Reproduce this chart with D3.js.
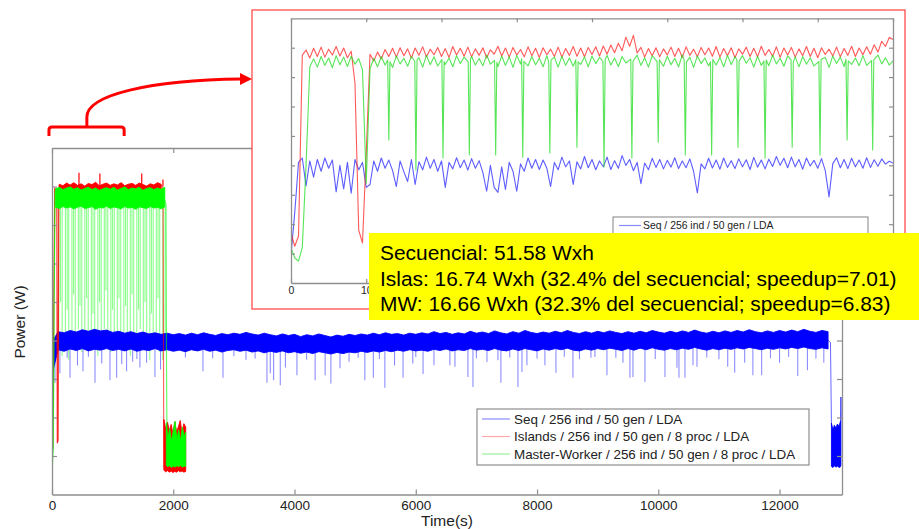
<!DOCTYPE html>
<html><head><meta charset="utf-8">
<script src="https://cdn.jsdelivr.net/npm/d3@7"></script>
<style>body{margin:0;background:#fff}svg{display:block}text{font-family:Arial,"Liberation Sans",sans-serif}</style>
</head><body><svg id="c" width="919" height="529"></svg>
<script>
// ---------------- DATA ----------------
const xTicksMain=[0,2000,4000,6000,8000,10000,12000];
const yTicks=[110,120,130,140,150,160,170,180];
const xTicksInset=[0,10,20,30,40,50,60,70,80];
const insetLabelTicks=[0,10];
const legendLabels=["Seq / 256 ind / 50 gen / LDA","Islands / 256 ind / 50 gen / 8 proc / LDA","Master-Worker / 256 ind / 50 gen / 8 proc / LDA"];
const infoLines=["Secuencial: 51.58 Wxh","Islas: 16.74 Wxh (32.4% del secuencial; speedup=7.01)","MW: 16.66 Wxh (32.3% del secuencial; speedup=6.83)"];

// Main: Seq band envelope, one sample every 100 s (0..12800)
const seqBandTime=d3.range(0,12801,100);
const seqUpper=[139.5,142.3,142.0,142.6,142.2,142.8,142.4,142.9,142.5,142.7,142.1,
142.4,141.9,142.3,141.8,142.2,141.7,142.0,141.6,141.9,141.5,
141.8,141.4,141.9,141.5,142.0,141.6,141.3,141.8,141.5,141.9,
141.6,142.1,141.7,141.4,141.9,141.5,141.2,141.7,141.3,141.6,
141.0,141.5,141.2,141.7,141.3,140.9,141.4,141.1,141.6,141.3,
141.7,141.4,141.9,141.5,142.0,141.6,141.8,141.4,141.9,141.6,
142.0,141.7,142.3,141.8,142.1,141.6,142.0,141.7,142.4,141.9,
142.2,141.8,142.5,142.0,141.7,142.3,141.9,142.6,142.1,141.8,
142.2,141.9,142.4,142.0,142.6,142.1,141.8,142.3,141.9,142.4,
142.0,142.5,142.1,141.8,142.3,141.9,142.4,142.0,142.6,142.2,
141.9,142.4,142.0,142.5,142.1,142.7,142.2,141.9,142.4,142.0,
142.5,142.1,142.6,142.2,142.8,142.3,142.0,142.5,142.1,142.6,
142.2,142.7,142.3,142.9,142.4,142.1,142.6,142.3];
const seqLower=[131.0,137.6,137.2,137.8,137.4,137.9,137.3,137.7,137.5,137.9,137.4,
137.7,137.3,137.8,137.2,137.6,137.4,137.9,137.3,137.6,137.2,
137.5,137.1,137.6,137.3,137.7,137.2,137.5,137.0,137.4,137.6,
137.2,137.5,137.0,137.3,136.8,137.2,136.9,137.3,136.8,137.1,
136.7,137.0,136.6,137.1,136.8,136.5,136.9,136.6,137.0,136.8,
137.2,136.9,137.3,137.0,137.4,137.1,137.5,137.2,137.6,137.3,
137.5,137.2,137.7,137.4,137.8,137.3,137.6,137.4,137.9,137.5,
137.7,137.4,137.9,137.5,137.3,137.8,137.4,137.9,137.6,137.3,
137.8,137.5,137.9,137.6,138.0,137.5,137.3,137.8,137.5,137.9,
137.6,138.0,137.7,137.4,137.9,137.5,138.0,137.6,138.1,137.7,
137.5,137.9,137.6,138.0,137.7,138.2,137.8,137.5,137.9,137.6,
138.0,137.7,138.1,137.8,138.2,137.9,137.6,138.0,137.7,138.1,
137.8,138.2,137.9,138.3,137.9,137.7,138.1,137.8];
const seqDrop=[[12800,140.0],[12840,139.5],[12856,118.0]];
const seqTailTime=[12856,12880,12905,12930,12955,12980,13005];
const seqTailUpper=[118.5,116.8,118.0,117.2,118.3,117.6,119.0];
const seqTailLower=[107.3,107.0,107.5,107.1,107.4,107.0,107.2];
const seqTailSpike=[[13010,107.5],[13012,125.3]];
const seqDips=[[49,129.0],[130,131.5],[250,135.5],[297,130.3],[420,133.5],[511,132.0],[600,135.8],[709,129.0],[820,134.0],[956,129.7],[1066,130.3],[1150,133.8],[1230,132.0],[1330,134.5],[1400,135.2],[1450,133.0],[1560,134.2],[1698,130.5],[1790,132.5],[2200,135.6],[2490,132.0],[2650,135.4],[2820,130.3],[3000,135.9],[3200,135.0],[3350,135.3],[3545,129.0],[3600,131.5],[3655,129.7],[3765,128.4],[3850,133.0],[4040,131.0],[4200,135.0],[4340,129.7],[4505,131.0],[4600,128.8],[4750,132.8],[4900,134.5],[5050,135.5],[5160,129.7],[5300,130.3],[5400,135.2],[5490,127.7],[5650,133.5],[5790,130.3],[5950,134.0],[6000,135.7],[6120,131.3],[6300,133.6],[6563,133.6],[6646,133.2],[6860,130.5],[6943,127.9],[7000,135.4],[7174,134.4],[7355,134.9],[7404,129.0],[7550,135.6],[7685,127.9],[7751,131.8],[7833,133.6],[8000,135.3],[8130,133.6],[8312,131.6],[8450,135.8],[8592,130.3],[8700,135.1],[8889,135.5],[8955,135.7],[9153,131.0],[9300,135.5],[9417,134.2],[9532,130.3],[9582,130.5],[9780,129.2],[9950,135.2],[10110,130.5],[10308,132.9],[10341,130.3],[10440,130.3],[10572,133.6],[10638,133.2],[10800,135.6],[11000,135.1],[11145,133.2],[11260,131.6],[11425,134.2],[11560,131.0],[11705,131.0],[11850,135.4],[12000,134.2],[12150,135.7],[12300,130.8],[12460,132.3],[12600,135.3],[12730,134.2]];

// Main: Islands
const islStart=[[0,117],[15,112],[30,150],[45,179.5],[80,179],[88,113.4],[100,114],[112,178],[120,180.4]];
const islHiTime=d3.range(120,1801,60);
const islHiUpper=[180.6,180.2,180.9,180.4,181.0,180.3,180.7,180.1,180.8,180.5,181.1,180.2,180.6,180.9,180.3,180.7,180.4,181.0,180.2,180.6,180.8,180.3,180.9,180.5,180.1,180.7,180.4,181.0,180.6];
const islHiLower=[176.4,176.0,176.6,176.2,175.9,176.5,176.1,176.7,176.3,175.8,176.4,176.0,176.6,176.2,176.5,175.9,176.3,176.7,176.1,176.4,176.0,176.6,176.2,175.9,176.5,176.1,176.4,176.0,176.3];
const islSpikes=[[445,183.6],[790,183.4],[1140,180.8],[1480,183.4],[1830,181.8]];
const islDrop=[[1800,180.4],[1832,179.5],[1842,118],[1848,107]];
const islLowTime=[1845,1875,1905,1935,1965,1995,2025,2055,2085,2115,2145,2175,2205];
const islLowUpper=[119.5,117.0,118.8,116.5,118.2,115.8,118.9,116.3,117.6,119.2,116.0,118.4,117.5];
const islLowLower=[106.3,105.9,106.2,105.8,106.1,105.7,106.0,105.8,106.2,105.9,106.1,105.8,106.0];

// Main: Master-Worker
const mwStart=[[0,105.5],[20,112],[35,150],[50,178],[60,179.4]];
const mwHiTime=d3.range(60,1861,60);
const mwHiUpper=[179.4,179.8,179.2,179.6,179.9,179.3,179.7,179.1,179.5,179.8,179.2,179.6,179.0,179.4,179.7,179.3,179.8,179.1,179.5,179.9,179.2,179.6,179.4,179.8,179.0,179.5,179.7,179.2,179.6,179.3,179.8,179.4];
const mwHiLower=[174.6,174.3,174.8,174.4,174.7,174.2,174.6,174.9,174.3,174.5,174.8,174.1,174.6,174.4,174.9,174.3,174.7,174.5,174.2,174.8,174.4,174.6,174.1,174.7,174.5,174.3,174.8,174.4,174.6,174.2,174.7,174.5];
const mwDrop=[[1860,176.5],[1880,175.5],[1890,130],[1896,116]];
const mwLowTime=[1885,1910,1940,1970,2000,2030,2060,2090,2120,2150,2180,2205];
const mwLowUpper=[118.5,114.5,117.2,113.8,116.5,119.0,114.2,116.8,113.9,117.5,115.0,116.2];
const mwLowLower=[107.6,107.2,107.5,107.0,107.4,107.1,107.5,107.2,107.6,107.1,107.4,107.3];
const mwDips=[[112,138],[140,150],[168,136],[221,140],[250,148],[276,135],[329,141],[356,152],[384,139],[435,143],[462,149],[491,137],[541,140],[570,151],[598,142],[649,138],[676,147],[705,141],[756,136],[784,150],[812,140],[863,143],[890,153],[920,139],[971,137],[998,148],[1027,141],[1077,139],[1105,151],[1134,142],[1185,138],[1213,149],[1242,140],[1292,136],[1320,152],[1348,141],[1399,139],[1427,148],[1455,143],[1506,138],[1534,150],[1562,140],[1613,135],[1641,147],[1669,139],[1720,142],[1748,151],[1776,137],[1827,135],[1866,140]];

// Inset (zoom of first part), one sample every 0.5 units
const insetTime=d3.range(0,80.001,0.5);
const seqIn=[109.5,124,141,142.5,133,141.5,136,142,138,142.5,
139,141.8,131,140,132,141,130.5,142,138.5,141,
132.5,133.5,141.5,138,142.5,139,141.8,138.2,132.8,141.5,
137.8,134.5,142,133.5,141.2,138.5,142.8,139,142,138,
141.5,132.5,141,138.8,142.6,139.2,141.8,138.4,142.3,139,
141.6,137.5,131.2,140,132.5,130.8,139.5,131.8,141,138,
131.2,140.5,138,142.5,139,142,138.6,141.8,139,132.8,
141,138.5,142.8,139.5,141.5,133.5,141.2,138.8,143,139.2,
142,138.5,141.5,139.5,142.8,138.6,141.6,139,143.3,140,
142,138.2,141,133.8,140.8,138.5,142.4,139.3,142,138.8,
141.7,139.4,142.6,138.9,141.5,139.2,142.2,138,130.6,140.5,
138.8,142.4,139.1,141.8,138.7,142.5,139.3,141.6,138.9,142.2,
139.5,141.9,138.6,142.7,139.4,141.8,138.8,142.1,139.6,143,
140,142.4,139.2,142.8,139.5,142,138.7,142.5,139.8,141.7,
139,142.3,138.2,129.3,140.6,142.6,139.2,142,138.9,142.4,
139.5,141.8,139,142.6,139.3,141.9,139.7,142.2,140.4,141.4,
140.8];
const islIn=[117,112.5,116,177.5,179.2,176.5,179.8,177,180.2,176.8,
179.5,177.5,180.4,177.2,179.9,176.6,178.8,168,118,113.6,
144,177.8,175.5,178.5,176.2,179.4,177,179.8,176.8,180,
177.3,179.6,176.5,179.9,177.4,180.3,176.9,179.5,177.6,180.1,
177,179.7,176.7,180.4,177.5,179.8,177.1,180.2,176.9,179.6,
177.4,180,176.6,179.3,177.8,180.5,177.2,179.9,176.8,180.1,
177.5,179.4,176.9,180.3,177.3,179.8,176.7,180,177.6,179.5,
177,180.2,176.8,179.7,177.4,180.4,177.1,179.9,176.9,180.1,
177.7,180.3,177.2,180.6,177.8,180.9,178.3,181.5,179,183.6,
180.5,184.2,178.2,180.1,176.8,179.7,177.3,180,176.9,179.6,
177.5,180.2,177,179.8,176.7,180.3,177.4,179.5,176.9,180.1,
177.6,179.9,177.1,180.4,176.8,179.7,177.3,180,176.6,179.6,
177.8,180.2,177,179.8,176.9,180.5,177.4,179.4,177.1,180.3,
176.7,179.9,177.5,180.1,176.8,179.6,177.3,180.4,177,179.8,
176.6,180,177.7,179.5,177.2,180.2,176.9,179.7,177.4,180.5,
177,179.9,177.6,180.3,177.8,181,178.5,182.2,180.4,183.5,
182.8];
const mwIn=[112,108.5,107.5,112,140,173.5,176.2,173.4,177,174,
176.5,173.2,177.3,174.2,176.8,173.6,177.1,174.4,176.3,172.5,
134,172.8,176.4,173.5,177,174.1,176.7,173.3,177.2,174.5,
176.4,173.7,177,174,176.6,173.4,177.4,174.2,176.9,173.8,
177.1,174.3,176.5,173.5,177.3,174.6,176.8,173.2,177,174.1,
176.3,173.9,177.5,174.4,176.7,173.6,177.2,174,176.9,173.3,
177.4,174.5,176.6,173.8,177,174.2,176.4,173.5,177.3,174.7,
176.8,173.4,177.1,174,176.5,173.7,177.6,174.3,176.9,173.5,
177.2,174.6,176.7,173.9,177.4,174.1,176.5,173.6,177,174.8,
176.8,174.2,177.5,174,176.6,173.4,177.3,174.5,176.9,173.7,
177.1,174.2,176.4,173.5,177.6,174.4,176.8,173.3,177.2,174.6,
176.5,173.8,177,174.1,176.7,173.5,177.4,174.3,176.9,173.6,
177.3,174.7,176.6,173.4,177.1,174,176.8,173.9,177.5,174.5,
176.4,173.7,177.2,174.2,176.9,173.5,177,174.4,176.6,173.8,
177.4,174.1,176.7,173.3,177.2,174.6,176.8,173.6,177.1,174.3,
176.5,173.9,177.3,174,176.9,173.7,177.5,174.5,176.6,174.1,
175.5];
// narrow MW dips in the inset: shoulder, bottom, shoulder
const mwInDips=[
[[12.85,175.8],[13.0,148.6],[13.15,175.2]],
[[16.45,175.4],[16.6,138.4],[16.75,175.9]],
[[20.05,176.0],[20.2,142.5],[20.35,175.3]],
[[23.55,175.2],[23.7,143.5],[23.85,176.1]],
[[27.05,175.7],[27.2,143.5],[27.35,175.0]],
[[30.65,176.2],[30.8,142.8],[30.95,175.4]],
[[34.25,175.1],[34.4,144.2],[34.55,175.8]],
[[37.85,175.9],[38.0,146.2],[38.15,175.2]],
[[41.45,175.4],[41.6,139.5],[41.75,176.0]],
[[45.15,176.1],[45.3,142.5],[45.45,175.5]],
[[48.65,175.3],[48.8,147.9],[48.95,175.9]],
[[52.25,175.8],[52.4,143.5],[52.55,175.1]],
[[55.75,175.2],[55.9,143.5],[56.05,176.0]],
[[59.25,176.0],[59.4,146.2],[59.55,175.4]],
[[62.85,175.5],[63.0,142.5],[63.15,175.8]],
[[66.45,175.9],[66.6,146.2],[66.75,175.2]],
[[70.15,175.3],[70.3,143.5],[70.45,176.1]],
[[73.75,176.1],[73.9,148.6],[74.05,175.5]],
[[77.15,175.6],[77.3,145.2],[77.45,175.9]]];

// ---------------- DRAW ----------------
const svg=d3.select("#c");
const AX="#8e8e8e";
const BLUE="#0000ff",RED="#ff0000",GREEN="#00ff00";
const M={l:52,r:842,t:148,b:494.5};
const x=d3.scaleLinear().domain([0,13030]).range([M.l,M.r]);
const y=d3.scaleLinear().domain([100,190]).range([M.b,M.t]);

const defs=svg.append("defs");
defs.append("clipPath").attr("id","mclip").append("rect").attr("x",M.l).attr("y",M.t).attr("width",M.r-M.l).attr("height",M.b-M.t);

function styleAxis(g,fs){
  g.select("path.domain").attr("stroke",AX).attr("stroke-width",1.3);
  g.selectAll(".tick line").attr("stroke",AX).attr("stroke-width",1.2);
  g.selectAll(".tick text").attr("fill","#222").style("font-size",fs+"px").style("font-family","Arial, 'Liberation Sans', sans-serif");
}
function band(g,sx,sy,T,U,L,color,op){
  const pts=T.map((t,i)=>[t,U[i],L[i]]);
  g.append("path").datum(pts)
   .attr("d",d3.area().x(d=>sx(d[0])).y0(d=>sy(d[2])).y1(d=>sy(d[1])))
   .attr("fill",color).attr("fill-opacity",op).attr("stroke",color).attr("stroke-width",0.9).attr("stroke-opacity",op);
}
function poly(g,sx,sy,pts,color,w,op){
  g.append("path").datum(pts).attr("d",d3.line().x(d=>sx(d[0])).y(d=>sy(d[1])))
   .attr("fill","none").attr("stroke",color).attr("stroke-width",w).attr("stroke-opacity",op).attr("stroke-linejoin","round");
}
function spikes(g,sx,sy,arr,base,color,w,op){
  g.append("g").selectAll("line").data(arr).join("line")
   .attr("x1",d=>sx(d[0])).attr("x2",d=>sx(d[0])).attr("y1",sy(base)).attr("y2",d=>sy(d[1]))
   .attr("stroke",color).attr("stroke-width",w).attr("stroke-opacity",op);
}

// main plot data
const gm=svg.append("g").attr("clip-path","url(#mclip)");
spikes(gm,x,y,mwDips,175,GREEN,1.1,0.45);
poly(gm,x,y,[[0,131],[50,139.5]],BLUE,1,0.8);
spikes(gm,x,y,seqDips,138.5,BLUE,1.1,0.45);
band(gm,x,y,seqBandTime,seqUpper,seqLower,BLUE,1);
poly(gm,x,y,seqDrop,BLUE,1,0.6);
band(gm,x,y,seqTailTime,seqTailUpper,seqTailLower,BLUE,1);
poly(gm,x,y,seqTailSpike,BLUE,1.2,0.9);
// Islands
poly(gm,x,y,islStart,RED,1.2,0.85);
band(gm,x,y,islHiTime,islHiUpper,islHiLower,RED,1);
spikes(gm,x,y,islSpikes,180,RED,1.2,1);
poly(gm,x,y,islDrop,RED,1.2,0.6);
band(gm,x,y,islLowTime,islLowUpper,islLowLower,RED,1);
// MW
poly(gm,x,y,mwStart,GREEN,1.2,0.8);
band(gm,x,y,mwHiTime,mwHiUpper,mwHiLower,GREEN,1);
poly(gm,x,y,mwDrop,GREEN,1.2,0.6);
band(gm,x,y,mwLowTime,mwLowUpper,mwLowLower,GREEN,1);

// main axes
const gx=svg.append("g").attr("transform",`translate(0,${M.b})`)
  .call(d3.axisBottom(x).tickValues(xTicksMain).tickSize(-5).tickSizeOuter(0).tickPadding(6).tickFormat(d3.format("d")));
styleAxis(gx,13.5);
const gxt=svg.append("g").attr("transform",`translate(0,${M.t})`)
  .call(d3.axisTop(x).tickValues(xTicksMain).tickSize(-5).tickSizeOuter(0).tickFormat(""));
styleAxis(gxt,13);
const gy=svg.append("g").attr("transform",`translate(${M.l},0)`)
  .call(d3.axisLeft(y).tickValues(yTicks).tickSize(-5).tickSizeOuter(0).tickFormat(""));
styleAxis(gy,13);
const gyr=svg.append("g").attr("transform",`translate(${M.r},0)`)
  .call(d3.axisRight(y).tickValues(yTicks).tickSize(-5).tickSizeOuter(0).tickFormat(""));
styleAxis(gyr,13);

svg.append("text").attr("x",447).attr("y",520).attr("text-anchor","middle").attr("dominant-baseline","central")
  .style("font-size","15.5px").attr("fill","#222").text("Time(s)");
svg.append("text").attr("transform","translate(19,322) rotate(-90)").attr("text-anchor","middle").attr("dominant-baseline","central")
  .style("font-size","15.5px").attr("fill","#222").text("Power (W)");

// main legend
const lg=svg.append("g");
lg.append("rect").attr("x",477).attr("y",409).attr("width",332).attr("height",56).attr("fill","#fff").attr("stroke",AX).attr("stroke-width",1.2);
const legCols=["#8a8aff","#ffa8a8","#98f098"];
legendLabels.forEach((s,i)=>{
  const yy=419+i*17.5;
  lg.append("line").attr("x1",482).attr("x2",510).attr("y1",yy).attr("y2",yy).attr("stroke",legCols[i]).attr("stroke-width",1.2);
  lg.append("text").attr("x",514).attr("y",yy).attr("dominant-baseline","central").style("font-size","13.4px").attr("fill","#222").text(s);
});

// ---------- inset ----------
svg.append("rect").attr("x",252).attr("y",10).attr("width",653).attr("height",299).attr("fill","#fff").attr("stroke","#ff3c3c").attr("stroke-width",1.2);
const I={l:291,r:893,t:18.3,b:283};
const xi=d3.scaleLinear().domain([0,80]).range([I.l,I.r]);
const yi=d3.scaleLinear().domain([100,190]).range([I.b,I.t]);
defs.append("clipPath").attr("id","iclip").append("rect").attr("x",I.l).attr("y",I.t).attr("width",I.r-I.l).attr("height",I.b-I.t);
const gi=svg.append("g").attr("clip-path","url(#iclip)");
poly(gi,xi,yi,insetTime.map((t,i)=>[t,seqIn[i]]),"#3434ff",1.1,0.8);
poly(gi,xi,yi,insetTime.map((t,i)=>[t,islIn[i]]),"#ff2020",1.1,0.75);
const mwInPts=insetTime.map((t,i)=>[t,mwIn[i]])
  .filter(p=>!mwInDips.some(d=>Math.abs(d[1][0]-p[0])<0.3))
  .concat(mwInDips.flat()).sort((a,b)=>a[0]-b[0]);
poly(gi,xi,yi,mwInPts,"#1fdc1f",1.1,0.75);

const gix=svg.append("g").attr("transform",`translate(0,${I.b})`)
  .call(d3.axisBottom(xi).tickValues(xTicksInset).tickSize(-4).tickSizeOuter(0).tickPadding(4)
  .tickFormat(d=>insetLabelTicks.includes(d)?d:""));
styleAxis(gix,10.5);
const gixt=svg.append("g").attr("transform",`translate(0,${I.t})`)
  .call(d3.axisTop(xi).tickValues(xTicksInset).tickSize(-4).tickSizeOuter(0).tickFormat(""));
styleAxis(gixt,10);
const giy=svg.append("g").attr("transform",`translate(${I.l},0)`)
  .call(d3.axisLeft(yi).tickValues(yTicks).tickSize(-4).tickSizeOuter(0).tickFormat(""));
styleAxis(giy,10);
const giyr=svg.append("g").attr("transform",`translate(${I.r},0)`)
  .call(d3.axisRight(yi).tickValues(yTicks).tickSize(-4).tickSizeOuter(0).tickFormat(""));
styleAxis(giyr,10);

// inset legend (partly covered)
svg.append("rect").attr("x",613).attr("y",217).attr("width",255).attr("height",40).attr("fill","#fff").attr("stroke",AX).attr("stroke-width",1.1);
svg.append("line").attr("x1",619).attr("x2",641).attr("y1",225.5).attr("y2",225.5).attr("stroke","#8a8aff").attr("stroke-width",1.2);
svg.append("text").attr("x",643).attr("y",225.5).attr("dominant-baseline","central").style("font-size","10.4px").attr("fill","#222").text(legendLabels[0]);

// ---------- yellow info box ----------
svg.append("rect").attr("x",369).attr("y",233).attr("width",550).attr("height",87).attr("fill","#ffff00");
const infoT=infoLines.map((s,i)=>svg.append("text").attr("x",380).attr("y",260+i*25.5).style("font-size","20px").attr("fill","#000").text(s));
const maxW=d3.max(infoT,t=>t.node().getComputedTextLength());
const fs=20*517/maxW;
infoT.forEach(t=>t.style("font-size",fs.toFixed(2)+"px"));

// ---------- bracket + arrow ----------
const bx0=x(-50),bx1=x(1190),bm=x(575),byT=M.t-21,byE=M.t-12;
svg.append("path").attr("d",`M${bx0},${byE} L${bx0},${byT+3} Q${bx0},${byT} ${bx0+3},${byT} L${bx1-3},${byT} Q${bx1},${byT} ${bx1},${byT+3} L${bx1},${byE}`)
  .attr("fill","none").attr("stroke",RED).attr("stroke-width",3);
svg.append("path").attr("d",`M${bm},${byT} L${bm},${byT-10} C${bm},${byT-32} 150,80 241,79`)
  .attr("fill","none").attr("stroke",RED).attr("stroke-width",3);
svg.append("path").attr("d","M240,73 L252,79 L240,85 Z").attr("fill",RED);
</script></body></html>
